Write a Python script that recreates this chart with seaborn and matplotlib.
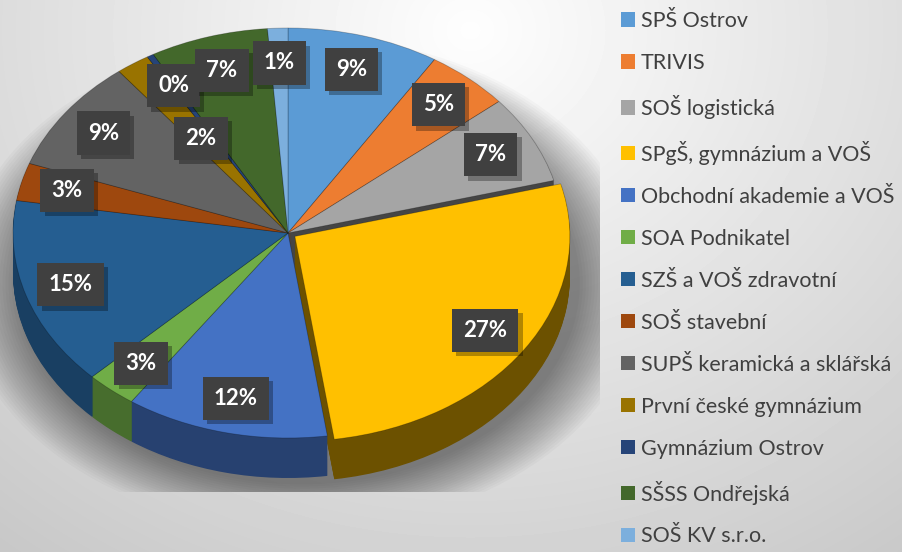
import numpy as np
import matplotlib
matplotlib.use('Agg')
import matplotlib.pyplot as plt
import matplotlib.colors as mcolors
import matplotlib.patheffects as pe
from matplotlib.patches import Patch, Ellipse, Rectangle
import seaborn as sns

schools = ["SPŠ Ostrov", "TRIVIS", "SOŠ logistická", "SPgŠ, gymnázium a VOŠ",
           "Obchodní akademie a VOŠ", "SOA Podnikatel", "SZŠ a VOŠ zdravotní",
           "SOŠ stavební", "SUPŠ keramická a sklářská", "První české gymnázium",
           "Gymnázium Ostrov", "SŠSS Ondřejská", "SOŠ KV s.r.o."]
shares = [9, 5, 7, 27, 12, 3, 15, 3, 9, 2, 0.4, 7, 1.2]
colors = ["#5B9BD5", "#ED7D31", "#A5A5A5", "#FFC000", "#4472C4", "#70AD47",
          "#255E91", "#9E480E", "#636363", "#997300", "#264478", "#43682B",
          "#7CAFDD"]

sns.set_theme(style="white")
plt.rcParams['font.family'] = ['Lato', 'DejaVu Sans']

W, H = 902, 552
fig = plt.figure(figsize=(W / 100, H / 100), dpi=100)

# background gradient
bg = fig.add_axes([0, 0, 1, 1])
bg.axis('off')
yy, xx = np.mgrid[0:H, 0:W]
d = np.sqrt(((xx - 470) / 640.0) ** 2 + ((yy - 30) / 560.0) ** 2)
val = 0.995 - 0.18 * np.clip(d, 0, 1.2)
bg.imshow(val, cmap='gray', vmin=0, vmax=1, extent=[0, W, H, 0], aspect='auto')
bg.set_xlim(0, W)
bg.set_ylim(H, 0)

# pie axes: center at px (288, 233 from top), rx=275, ry=205
cx, cy_top, rx, ry = 288.0, 233.0, 275.0, 205.0
ax_w = 600.0
ax = fig.add_axes([0, 0, ax_w / W, 1])
xlim = (-cx / rx, (ax_w - cx) / rx)
cy = H - cy_top
ylim = (-cy / ry, (H - cy) / ry)

explode = [0.03 if s == max(shares) else 0 for s in shares]
depth = 40.0 / ry

# soft shadow, clipped at the plot-area bottom
clip_y = (H - 492 - cy) / ry
clip_rect = Rectangle((xlim[0], clip_y), xlim[1] - xlim[0], ylim[1] - clip_y,
                      transform=ax.transData, fc='none', ec='none')
for i in range(22):
    f = 1.0 + 0.011 * (22 - i)
    e = Ellipse((0.05, -depth - 0.05), 2.0 * f, 2.0 * f * 0.97,
                fc='black', ec='none', alpha=0.022, zorder=0)
    ax.add_patch(e)
    e.set_clip_path(clip_rect)

# side walls (layered darker pies)
tmp_w, _ = ax.pie(shares, startangle=90, counterclock=False, explode=explode)
mids = [np.cos(np.deg2rad((w.theta1 + w.theta2) / 2)) for w in tmp_w]
for w in tmp_w:
    w.remove()
side_colors = []
for c, xm in zip(colors, mids):
    r, g, b = mcolors.to_rgb(c)
    f = 0.54 - 0.14 * xm
    side_colors.append((r * f, g * f, b * f))

n = 40
for k in range(n, 0, -1):
    off = -depth * k / n
    ax.pie(shares, colors=side_colors, startangle=90, counterclock=False,
           explode=explode, center=(0, off),
           wedgeprops=dict(linewidth=0, antialiased=True))

wedges, _ = ax.pie(shares, colors=colors, startangle=90, counterclock=False,
                   explode=explode, center=(0, 0),
                   wedgeprops=dict(edgecolor=(0, 0, 0, 0.25), linewidth=0.6))

ax.set_aspect('auto')
ax.set_xlim(*xlim)
ax.set_ylim(*ylim)
ax.axis('off')

total = sum(shares)
special_r = {9: 0.56}
for i, w in enumerate(wedges):
    th = np.deg2rad((w.theta1 + w.theta2) / 2)
    r = special_r.get(i, 0.83)
    x = w.center[0] + r * np.cos(th)
    y = w.center[1] + r * np.sin(th)
    lab = f"{round(shares[i] / total * 100)}%"
    t = ax.text(x, y, lab, ha='center', va='center',
                color='white', fontsize=16, fontweight='bold', zorder=10,
                bbox=dict(boxstyle='square,pad=0.5', fc='#404040', ec='none'))
    t.get_bbox_patch().set_path_effects(
        [pe.SimplePatchShadow(offset=(3, -3), shadow_rgbFace='black', alpha=0.3),
         pe.Normal()])

handles = [Patch(facecolor=c, edgecolor='none') for c in colors]
fig.legend(handles, schools, loc='upper left',
           bbox_to_anchor=(621 / W, 1 - 11 / H), frameon=False,
           handlelength=0.65, handleheight=0.65, handletextpad=0.28,
           labelspacing=1.02, fontsize=15.5, labelcolor='#404040',
           borderaxespad=0, borderpad=0)

fig.savefig('out.png', dpi=100)
